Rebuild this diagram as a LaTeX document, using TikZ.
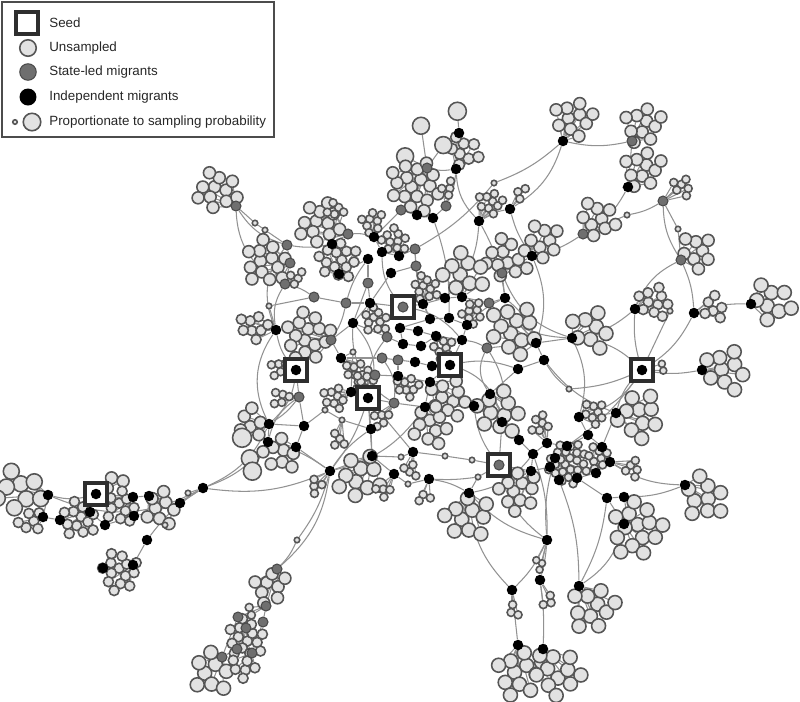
\documentclass[tikz,border=0pt]{standalone}
\usepackage{fontspec}
\setmainfont{Liberation Sans}
\usetikzlibrary{backgrounds}
\usetikzlibrary{positioning}

\definecolor{leaffill}{HTML}{E2E2E2}
\definecolor{leafline}{HTML}{555555}
\definecolor{statefill}{HTML}{6F6F6F}
\definecolor{stateline}{HTML}{4A4A4A}
\definecolor{linkgray}{HTML}{929292}
\definecolor{boxline}{HTML}{2E2E2E}

% hubs: name/x/y/style (pixel grid, y downwards)
\def\seeds{s1/403/307/sl,s2/296/370/bk,s3/450/365/bk,s4/368/398/bk,%
s5/642/370/bk,s6/499/465/sl,s7/96/494/bk}
\def\hubs{%
t1/459/133/bk,t2/456/169/bk,t3/427/168/sl,t4/563/141/bk,t5/632/141/sl,%
t6/628/187/bk,t7/663/201/sl,t8/681/260/sl,t9/583/234/sl,t10/532/256/bk,%
t11/479/221/bk,t12/510/209/bk,t13/236/206/sl,t14/287/245/sl,t15/290/263/sl,%
t16/285/284/sl,t17/348/234/sl,t18/332/244/bk,t19/339/274/bk,t20/374/237/bk,%
t21/382/252/bk,t22/368/259/bk,t23/391/273/bk,t24/368/283/sl,t25/399/256/bk,%
t26/415/249/sl,t27/416/266/sl,t28/401/210/sl,t29/417/215/bk,t30/433/218/bk,%
t31/446/206/sl,t32/502/273/sl,%
m1/370/303/bk,m2/353/323/bk,m3/423/304/bk,m4/445/298/bk,m5/462/297/bk,%
m6/505/298/bk,m7/489/303/sl,m8/430/319/bk,m9/449/318/bk,m10/467/325/bk,%
m11/400/328/bk,m12/418/331/bk,m13/436/336/bk,m14/462/340/bk,m15/403/344/bk,%
m16/421/346/bk,m17/387/337/sl,m18/382/358/sl,m19/398/360/sl,m20/415/362/bk,%
m21/432/366/bk,m22/398/376/bk,m23/375/375/sl,m24/430/382/bk,m25/487/348/sl,%
m26/536/343/bk,m27/544/360/bk,m28/518/369/bk,m29/490/394/bk,m30/474/406/bk,%
m31/425/407/bk,m32/394/403/sl,m33/371/429/bk,m34/314/297/sl,m35/346/303/sl,%
m36/331/340/sl,m37/341/358/bk,m38/351/392/bk,m39/299/397/sl,m40/276/330/bk,%
l1/269/424/bk,l2/304/426/bk,l3/268/442/bk,l4/296/447/bk,l5/372/456/bk,%
l6/330/471/bk,l7/394/474/bk,l8/413/452/bk,l9/429/479/bk,l10/469/493/bk,%
l11/203/488/bk,%
r1/635/309/bk,r2/694/313/bk,r3/751/304/bk,r4/572/338/bk,r5/702/370/bk,%
r6/579/417/bk,r7/616/413/bk,r8/588/435/bk,r9/602/447/bk,r10/610/462/bk,%
r11/596/473/bk,r12/567/446/bk,r13/685/485/bk,r14/624/524/bk,r15/624/497/bk,%
r16/607/498/bk,r17/577/478/bk,r18/559/480/bk,r19/550/467/bk,r20/555/458/bk,%
r21/531/471/bk,r22/533/454/bk,r23/519/440/bk,r24/502/422/bk,r25/547/443/bk,%
b1/547/540/bk,b2/512/590/bk,b3/540/580/bk,b4/579/586/bk,b5/518/645/bk,%
b6/543/649/bk,%
q1/277/569/sl,q2/266/606/sl,q3/238/617/sl,q4/246/628/sl,q5/263/622/sl,%
q6/237/649/sl,q7/222/657/sl,q8/252/653/sl,%
w1/48/495/bk,w2/43/517/bk,w3/60/520/bk,w4/90/512/bk,w5/105/525/bk,%
w6/133/497/bk,w7/149/496/bk,w8/134/516/bk,w9/180/503/bk,w10/147/540/bk,%
w11/133/565/bk,w12/103/568/bk,%
u1/494/183/us,u2/627/215/us,u3/678/229/us,u4/670/311/us,u5/569/389/us,%
u6/297/540/us,u7/401/457/us,u8/408/484/us,u9/445/456/us,u10/472/460/us,%
u11/478/477/us,u12/255/223/us,u13/265/230/us,u14/269/306/us,u15/325/410/us,%
u16/342/420/us,u17/353/352/us,u18/188/493/us,u19/165/525/us}

% leaf sets: name/hub/x/y/count/radius
\def\leafsets{%
ka/t1/462/106/1/9,kb/t2/463/151/8/5.5,kc/t3/425/131/1/8.5,kd/t3/407/150/1/8.5,%
ke/t3/438/149/1/8.5,kf/t3/416/186/17/6,kg/t4/573/119/10/6,kh/t5/643/124/10/6,%
ki/t6/643/168/10/6,kj/t7/683/187/6/4,kk/t8/698/252/8/6,kl/t9/597/219/9/6,%
km/t10/545/241/8/6,kn/t11/490/203/9/4,ko/t12/521/192/3/4,kp/t13/218/190/11/6,%
kq/t15/265/262/13/6,kr/t16/296/276/4/4,ks/t17/320/224/12/6,kt/t18/336/209/5/4,%
ku/t19/338/261/14/5,kv/t20/372/221/8/4,kw/t32/508/258/12/6,kx/m5/465/272/9/7,%
ky/t25/395/240/10/4,kz/t31/447/187/4/4,%
na/m1/375/320/10/4,nb/m3/425/288/10/4,nc/m10/472/312/8/4,nd/m13/443/348/8/4,%
ne/m22/407/387/8/4,nf/m24/450/398/10/6,ng/m37/356/372/8/4,nh/m36/308/337/15/6,%
ni/m26/515/330/12/7,nj/m29/500/412/10/7,nk/m31/430/425/10/6,nl/m40/253/327/8/5,%
nm/s2/278/367/5/4,nn/m39/281/397/5/4,no/l1/250/422/6/6,np/l4/281/454/8/6,%
nq/u16/337/440/4/4,nr/m38/335/398/8/4,ns/m23/364/381/6/4,nt/m32/381/418/5/4,%
nu/l5/360/478/10/7,nv/l6/317/487/4/4,nw/l7/382/492/4/4,nx/l8/412/470/4/4,%
ny/l9/425/497/3/4,nz/l10/467/518/10/7,la/l1/235/440/1/9.5,lb/l3/248/452/1/8.5,%
lc/l3/258/467/1/9,%
pa/r1/655/302/10/5,pb/r2/713/307/6/5,pc/r3/771/302/8/7,pd/r4/592/330/8/7,%
pe/s5/664/368/2/3.5,pf/r5/727/370/9/7,pg/r6/595/413/8/4,ph/r7/638/415/10/7,%
pi/r13/703/497/9/7,pj/r14/637/530/14/7,pk/r10/632/468/5/4,pl/r20/568/463/24/4,%
pm/r21/518/490/12/6,po/r25/540/425/6/4,pp/r11/598/458/8/4,%
qa/b2/513/610/3/4,qb/b3/548/602/3/4,qc/b4/593/607/10/7,qd/b5/520/672/11/7,%
qe/b6/556/673/11/7,qf/b1/540/565/3/3.5,%
ga/q1/270/586/8/6,gb/q2/252/612/2/4,gc/q4/245/638/14/5,gd/q7/210/672/8/7,%
ge/q8/242/668/6/5,%
ha/w1/20/490/8/8,hb/w2/30/522/6/5,hc/w4/78/519/12/5,hd/s7/115/481/3/6,%
he/w6/120/507/10/5,hf/w7/160/508/8/6,hg/w11/120/572/14/5}

% links between hubs: from/to/bend
\def\links{%
t1/t2/0,t2/t3/10,t2/t11/-20,t26/u1/-10,u1/t4/-10,t4/t5/-12,t5/t6/0,%
t6/t9/15,t9/u2/0,u2/t7/-10,t7/u3/0,u3/t8/0,t7/t8/-15,t8/r1/-20,t8/r2/10,%
t9/t10/10,t10/t12/10,t12/t11/-10,t11/m6/10,t13/u12/0,u12/u13/0,u13/t14/0,%
t13/t14/-20,t14/t15/0,t15/t16/0,t14/t18/-10,t16/m34/10,t16/m40/-20,%
t17/t18/0,t18/t19/0,t17/t20/10,t19/t22/0,t20/t21/0,t21/t25/0,t22/t24/0,%
t23/t27/0,t25/t26/0,t26/t27/0,t28/t29/0,t29/t30/0,t30/t31/0,t28/t20/0,%
t3/t28/10,t27/m3/0,t23/m1/0,t24/m1/0,t32/m6/0,t32/t10/0,t31/t2/-10,%
m1/m2/0,m1/s1/0,s1/m3/0,m3/m4/0,m4/m5/0,m5/m7/0,m7/m6/0,m3/m8/0,m8/m9/0,%
m9/m10/0,m8/m11/0,m11/m12/0,m12/m13/0,m13/m14/0,m14/m10/0,m11/m15/0,%
m15/m16/0,m16/m13/0,m17/m15/0,m17/m2/0,m18/m19/0,m19/m20/0,m20/m21/0,%
m21/s3/0,s3/m14/0,m19/m22/0,m22/m23/0,m22/m24/0,m24/s3/0,m14/m25/10,%
m25/m26/0,m26/m27/0,m27/m28/0,m28/s3/-15,m28/m29/0,m29/m30/0,m30/m31/0,%
m31/m24/0,m32/s4/0,s4/m33/0,m32/m31/0,m34/m35/0,m35/m1/0,m35/m36/10,%
m36/m37/0,m37/m18/0,m37/u17/0,u17/m38/0,m38/s4/0,m40/s2/-15,s2/m39/0,%
m39/l2/0,m2/m36/0,m10/m6/10,m26/r4/0,r4/r1/-15,r1/s5/-10,r2/s5/15,%
r3/r2/-10,s5/r5/-10,s5/u4/0,s5/r7/-15,s5/r12/10,s5/u5/10,u5/m27/10,%
r6/r7/0,r6/r8/0,r7/r9/0,r8/r9/0,r9/r10/0,r10/r11/0,r11/r17/0,r8/r12/0,%
r12/r20/0,r20/r19/0,r19/r18/0,r18/r17/0,r17/r16/0,r16/r15/0,r15/r14/10,%
r10/r13/-15,r15/r13/-10,r22/r23/0,r23/r24/0,r22/r25/0,r25/r12/0,r22/r21/0,%
r21/s6/0,s6/r24/0,r24/m30/0,r21/r19/0,r16/r14/0,r22/b1/10,b1/b2/10,%
b1/b3/5,b4/r18/-10,l10/b2/-20,b2/b5/0,b3/b6/5,%
l8/u9/0,u9/u10/0,u10/s6/0,l9/u11/-5,u11/s6/0,l10/u11/0,%
l1/l2/0,l1/l3/0,l2/l4/0,l3/l4/0,l2/u15/0,u15/u16/0,u16/m33/0,m33/l5/0,%
l5/l6/0,l6/l4/0,l6/l3/-10,l5/u7/0,u7/l8/0,l7/u8/0,u8/l9/0,l7/l5/0,l8/s4/0,%
l6/u6/10,u6/q1/10,l6/q1/20,l11/l3/-15,l11/l6/-15,m39/l1/10,s4/l5/0,%
l6/m31/-20,%
l11/w9/0,w9/w7/0,w7/w6/0,w6/s7/0,s7/w4/0,w4/w3/0,w3/w2/0,w2/w1/0,%
w1/s7/-15,w6/w8/0,w8/w5/0,w5/w4/0,l11/w10/-10,w10/w11/0,w11/w12/0,%
l11/u18/0,w9/u19/0,l11/w1/25,l11/w8/10,%
q1/q2/0,q2/q3/0,q2/q5/0,q3/q4/0,q5/q8/0,q4/q6/0,q6/q7/0,q3/q7/0,%
t30/m9/10,t26/m8/-10,m2/s4/30,m17/s4/-20,m25/r24/20,m27/r7/-15,%
t10/m26/20,r4/r6/20,l10/r22/-20,b1/r20/10,%
t13/t16/-30,t14/m40/-30,m40/l1/-30,s2/l1/20,m39/l3/-20,l1/l11/20,%
l6/s4/-10,l6/m33/10,s1/m14/20,t21/s1/-20,m2/m32/-30,m18/m32/20,%
s3/r24/30,m7/r4/-20,m6/m26/15,t32/r4/-25,m25/m29/-30,t11/m4/20,%
r4/s5/20,s5/r6/20,l10/b1/-15,s6/b1/-20,r14/b4/20,r16/b4/10,t4/t12/20,%
u14/m34/0,m40/u14/0,t24/m2/0,t22/m35/-10,m30/s6/-15,l9/l10/10}

\begin{document}
\begin{tikzpicture}[x=0.02cm, y=-0.02cm,
		leaf/.style={circle, draw=leafline, fill=leaffill, line width=0.9pt, inner sep=0pt},
		bk/.style={circle, fill=black, inner sep=0pt, minimum size=0.21cm},
		sl/.style={circle, draw=stateline, fill=statefill, line width=0.6pt, inner sep=0pt, minimum size=0.2cm},
		us/.style={leaf, minimum size=0.11cm},
		seedbox/.style={draw=boxline, fill=white, line width=1.8pt, minimum size=0.44cm, inner sep=0pt},
		edge/.style={draw=linkgray, line width=0.6pt},
		legtext/.style={anchor=west, inner sep=0pt, text=black!85, font=\fontsize{7.6}{9}\selectfont}]
	\useasboundingbox (0,0) rectangle (800,701);

	% leaves, packed round each set centre
	\foreach \kc/\kh/\kx/\ky/\kn/\kr in \leafsets {
		\foreach \k in {1,...,\kn} {
			\pgfmathsetmacro\rr{1.1*\kr*sqrt(\k-0.5)}
			\pgfmathsetmacro\aa{\k*137.508+\kx*7}
			\pgfmathsetmacro\dd{0.04*\kr}
			\node[leaf, minimum size=\dd cm] (\kc-\k) at ({\kx+\rr*cos(\aa)},{\ky+\rr*sin(\aa)}) {};
		}
	}

	% seeds
	\foreach \nm/\x/\y/\st in \seeds {
		\node[seedbox] (box\nm) at (\x,\y) {};
		\node[\st] (\nm) at (\x,\y) {};
	}

	% migrants and unsampled links
	\foreach \nm/\x/\y/\st in \hubs
		\node[\st] (\nm) at (\x,\y) {};

	\begin{scope}[on background layer]
		\foreach \kc/\kh/\kx/\ky/\kn/\kr in \leafsets {
			\foreach \k in {1,...,\kn}
				\draw[edge] (\kh) -- (\kc-\k);
		}
		\foreach \a/\b/\bb in \links
			\draw[edge] (\a) to[bend left=\bb] (\b);
	\end{scope}

	% legend
	\draw[draw=black!70, line width=0.9pt] (2,2) rectangle (274,137);
	\node[seedbox] (lgseed) at (27,23) {};
	\node[legtext] (txseed) at (49,23) {Seed};
	\node[leaf, minimum size=0.33cm] (lgun) at (28,48) {};
	\node[legtext] (txun) at (49,48) {Unsampled};
	\node[sl, minimum size=0.33cm] (lgsl) at (28,72) {};
	\node[legtext] (txsl) at (49,72) {State-led migrants};
	\node[bk, minimum size=0.34cm] (lgbk) at (28,97) {};
	\node[legtext] (txbk) at (49,97) {Independent migrants};
	\node[leaf, minimum size=0.09cm] (lgsmall) at (15,122) {};
	\node[leaf, minimum size=0.35cm] (lgbig) at (32,122) {};
	\node[legtext] (txsize) at (49,122) {Proportionate to sampling probability};
\end{tikzpicture}
\end{document}
